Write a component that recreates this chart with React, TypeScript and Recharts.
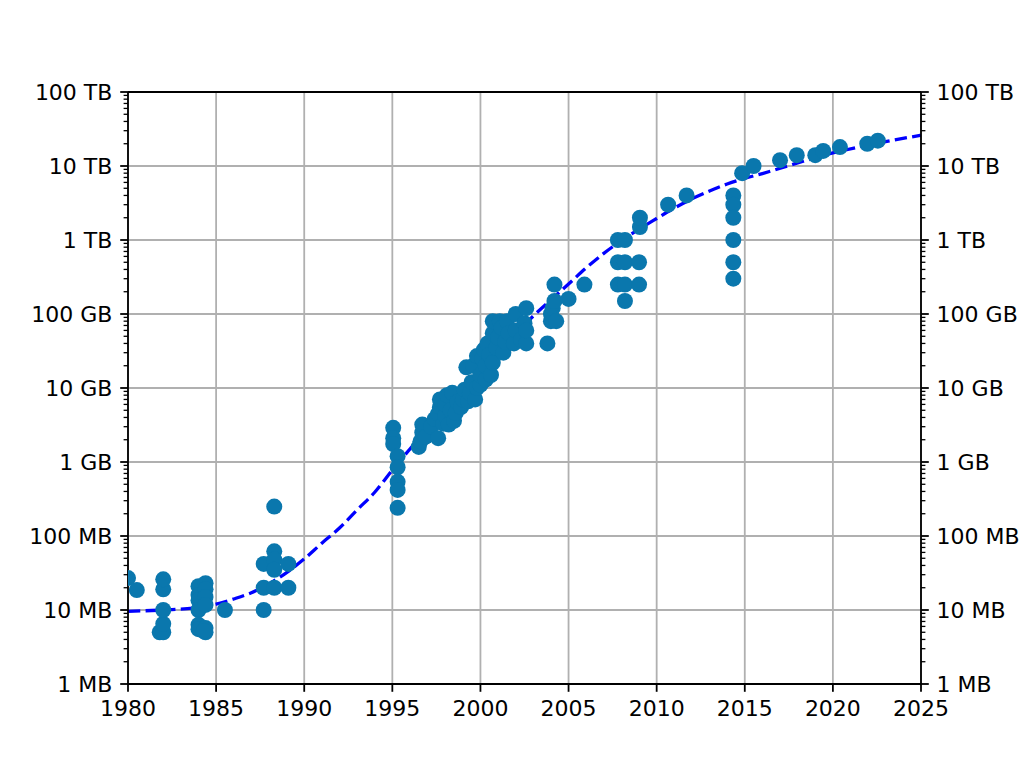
import React from 'react';
import {
  ComposedChart,
  Scatter,
  Line,
  XAxis,
  YAxis,
  CartesianGrid,
  ReferenceLine,
} from 'recharts';

// ---- axis definitions ----
const yearTicks = [1980, 1985, 1990, 1995, 2000, 2005, 2010, 2015, 2020, 2025];
const majorCapacity = [1, 10, 100, 1e3, 1e4, 1e5, 1e6, 1e7, 1e8]; // in MB
const majorLabels = ['1 MB', '10 MB', '100 MB', '1 GB', '10 GB', '100 GB', '1 TB', '10 TB', '100 TB'];
const minorMultipliers = [2, 3, 4, 5, 6, 7, 8, 9];

// ---- drive capacities [year, MB] ----
const early: [number, number][] = [
  [1980.0, 27], [1980.5, 18.6],
  [1981.8, 5], [1982.0, 5], [1982.0, 6.5], [1982.0, 10], [1982.0, 19], [1982.0, 26],
  [1984.0, 21], [1984.0, 16], [1984.0, 13.5], [1984.0, 10], [1984.0, 6.3], [1984.0, 5.5],
  [1984.4, 23], [1984.4, 19], [1984.4, 15], [1984.4, 11.7], [1984.4, 5.7], [1984.4, 5], [1984.3, 5.2],
  [1985.5, 10],
  [1987.7, 42], [1987.7, 20], [1987.7, 10],
  [1988.3, 250], [1988.3, 62], [1988.3, 48], [1988.3, 35], [1988.3, 20],
  [1989.1, 42], [1989.1, 20],
];

const nineties: [number, number][] = [
  [1995.05, 2900], [1995.05, 2100], [1995.05, 1750],
  [1995.3, 1200], [1995.3, 850], [1995.3, 540], [1995.3, 420], [1995.3, 240],
  [1996.5, 1600], [1996.6, 1900], [1996.7, 2500], [1996.7, 3200], [1996.9, 2200],
  [1997.2, 3000], [1997.4, 3800], [1997.6, 2100], [1997.6, 4500], [1997.7, 5500], [1997.7, 7000],
  [1997.9, 3300], [1998.0, 4200], [1998.0, 6000], [1998.1, 8000], [1998.2, 3200], [1998.3, 5000],
  [1998.4, 8600], [1998.5, 3600], [1998.6, 4600], [1998.7, 6500],
  [1998.9, 5500], [1999.0, 7000], [1999.1, 9500], [1999.2, 19000], [1999.3, 6600], [1999.4, 8500],
  [1999.5, 12000], [1999.6, 20000], [1999.7, 7000], [1999.8, 10000], [1999.8, 27000],
];

const twothousands: [number, number][] = [
  [2000.0, 11000], [2000.0, 15000], [2000.1, 25000], [2000.2, 33000], [2000.3, 13000],
  [2000.3, 20000], [2000.4, 40000], [2000.5, 28000], [2000.6, 15000], [2000.7, 22000],
  [2000.7, 55000], [2000.7, 80000], [2000.9, 35000], [2001.0, 48000], [2001.1, 80000],
  [2001.2, 65000], [2001.3, 30000], [2001.4, 42000], [2001.5, 80000], [2001.6, 55000],
  [2001.9, 40000], [2002.0, 60000], [2002.0, 100000], [2002.3, 45000], [2002.5, 75000],
  [2002.6, 40000], [2002.6, 60000], [2002.6, 120000],
  [2003.8, 40000], [2004.0, 80000], [2004.0, 100000], [2004.1, 120000], [2004.3, 80000],
  [2004.2, 150000], [2004.2, 250000], [2005.0, 160000], [2005.9, 250000],
  [2007.8, 1000000], [2008.2, 1000000], [2007.8, 500000], [2008.2, 500000], [2009.0, 500000],
  [2007.8, 250000], [2008.2, 250000], [2009.0, 250000], [2008.2, 150000],
  [2009.05, 1500000], [2009.05, 2000000],
];

const modern: [number, number][] = [
  [2010.65, 3000000], [2011.7, 4000000],
  [2014.35, 4000000], [2014.35, 3000000], [2014.35, 2000000], [2014.35, 1000000],
  [2014.35, 500000], [2014.35, 300000],
  [2014.85, 8000000], [2015.5, 10000000], [2017.0, 12000000], [2017.95, 14000000],
  [2019.0, 14000000], [2019.45, 16000000], [2020.4, 18000000], [2021.95, 20000000],
  [2022.55, 22000000],
];

// ---- fitted trend ----
const trendYears = [
  1980, 1982, 1984, 1985, 1986, 1987, 1988, 1989, 1990, 1991, 1992, 1993, 1994, 1995,
  1996, 1997, 1998, 1999, 2000, 2001, 2002, 2003, 2004, 2005, 2006, 2007, 2008, 2009,
  2010, 2011, 2012, 2013, 2014, 2015, 2016, 2018, 2020, 2022, 2025,
];
const trendMB = [
  9.6, 10, 10.8, 12, 14.1, 17.1, 22.5, 32, 49, 80, 128, 225, 390, 780,
  1500, 2900, 5700, 9700, 17000, 29700, 54000, 94000, 155000, 254000, 420000, 660000, 980000, 1400000,
  1950000, 2700000, 3600000, 4600000, 5700000, 6800000, 7900000, 11000000, 15000000, 19200000, 26000000,
];

const toPoints = (arr: [number, number][]) => arr.map(([year, mb]) => ({ year, mb }));
const trendData = trendYears.map((year, i) => ({ year, mb: trendMB[i] }));

const minorTicks: number[] = [];
majorCapacity.slice(0, -1).forEach((d) => minorMultipliers.forEach((m) => minorTicks.push(d * m)));
const allYTicks = [...majorCapacity, ...minorTicks].sort((a, b) => a - b);

const FONT = 'DejaVu Sans';
const DOT = '#0a77ad';
const MAJOR_LEN = 7.8;
const MINOR_LEN = 4.4;
const PAD = 7.8;

const labelFor = (v: number) => {
  const i = majorCapacity.indexOf(v);
  return i >= 0 ? majorLabels[i] : null;
};

const LeftTick = (props: any) => {
  const { x, y, payload } = props;
  const label = labelFor(payload.value);
  const len = label ? MAJOR_LEN : MINOR_LEN;
  return (
    <g>
      <line x1={x} x2={x - len} y1={y} y2={y} stroke="#000" strokeWidth={label ? 1.8 : 1.3} />
      {label && (
        <text x={x - MAJOR_LEN - PAD} y={y} dy="0.36em" textAnchor="end" fontSize={22} fontFamily={FONT} fill="#000">
          {label}
        </text>
      )}
    </g>
  );
};

const RightTick = (props: any) => {
  const { x, y, payload } = props;
  const label = labelFor(payload.value);
  const len = label ? MAJOR_LEN : MINOR_LEN;
  return (
    <g>
      <line x1={x} x2={x + len} y1={y} y2={y} stroke="#000" strokeWidth={label ? 1.8 : 1.3} />
      {label && (
        <text x={x + MAJOR_LEN + PAD} y={y} dy="0.36em" textAnchor="start" fontSize={22} fontFamily={FONT} fill="#000">
          {label}
        </text>
      )}
    </g>
  );
};

const Dot = (props: any) => <circle cx={props.cx} cy={props.cy} r={8} fill={DOT} />;

export default function App() {
  const groups = [early, nineties, twothousands, modern];
  return (
    <div style={{ position: 'absolute', left: 0, top: 0, width: 1024, height: 768, background: '#fff' }}>
      <ComposedChart
        width={1024}
        height={768}
        margin={{ top: 92, right: 0, bottom: 0, left: 0 }}
        style={{ fontFamily: FONT }}
      >
        <XAxis
          xAxisId="bottom"
          dataKey="year"
          type="number"
          domain={[1980, 2025]}
          ticks={yearTicks}
          interval={0}
          height={84}
          allowDataOverflow
          axisLine={{ stroke: '#000', strokeWidth: 1.8 }}
          tickLine={{ stroke: '#000', strokeWidth: 1.8 }}
          tickSize={MAJOR_LEN}
          tickMargin={9}
          tick={{ fill: '#000', fontSize: 22, fontFamily: FONT }}
        />
        <YAxis
          yAxisId="left"
          dataKey="mb"
          type="number"
          scale="log"
          domain={[1, 1e8]}
          allowDataOverflow
          ticks={allYTicks}
          interval={0}
          width={128}
          axisLine={{ stroke: '#000', strokeWidth: 1.8 }}
          tickLine={false}
          tickSize={0}
          tickMargin={0}
          tick={<LeftTick />}
        />
        <YAxis
          yAxisId="right"
          orientation="right"
          type="number"
          scale="log"
          domain={[1, 1e8]}
          allowDataOverflow
          ticks={allYTicks}
          interval={0}
          width={103}
          axisLine={{ stroke: '#000', strokeWidth: 1.8 }}
          tickLine={false}
          tickSize={0}
          tickMargin={0}
          tick={<RightTick />}
        />
        <CartesianGrid
          xAxisId="bottom"
          yAxisId="left"
          stroke="#b0b0b0"
          strokeWidth={1.8}
          horizontalValues={majorCapacity}
          verticalValues={yearTicks}
        />
        {groups.map((g, i) => (
          <Scatter
            key={i}
            xAxisId="bottom"
            yAxisId="left"
            data={toPoints(g)}
            dataKey="mb"
            fill={DOT}
            shape={<Dot />}
            isAnimationActive={false}
          />
        ))}
        <Line
          xAxisId="bottom"
          yAxisId="left"
          data={trendData}
          dataKey="mb"
          type="monotone"
          stroke="#0000ff"
          strokeWidth={3.3}
          strokeDasharray="12.3 5.3"
          dot={false}
          activeDot={false}
          isAnimationActive={false}
        />
        <ReferenceLine
          xAxisId="bottom"
          yAxisId="left"
          y={1e8}
          stroke="#000"
          strokeWidth={1.8}
          ifOverflow="extendDomain"
        />
      </ComposedChart>
    </div>
  );
}
